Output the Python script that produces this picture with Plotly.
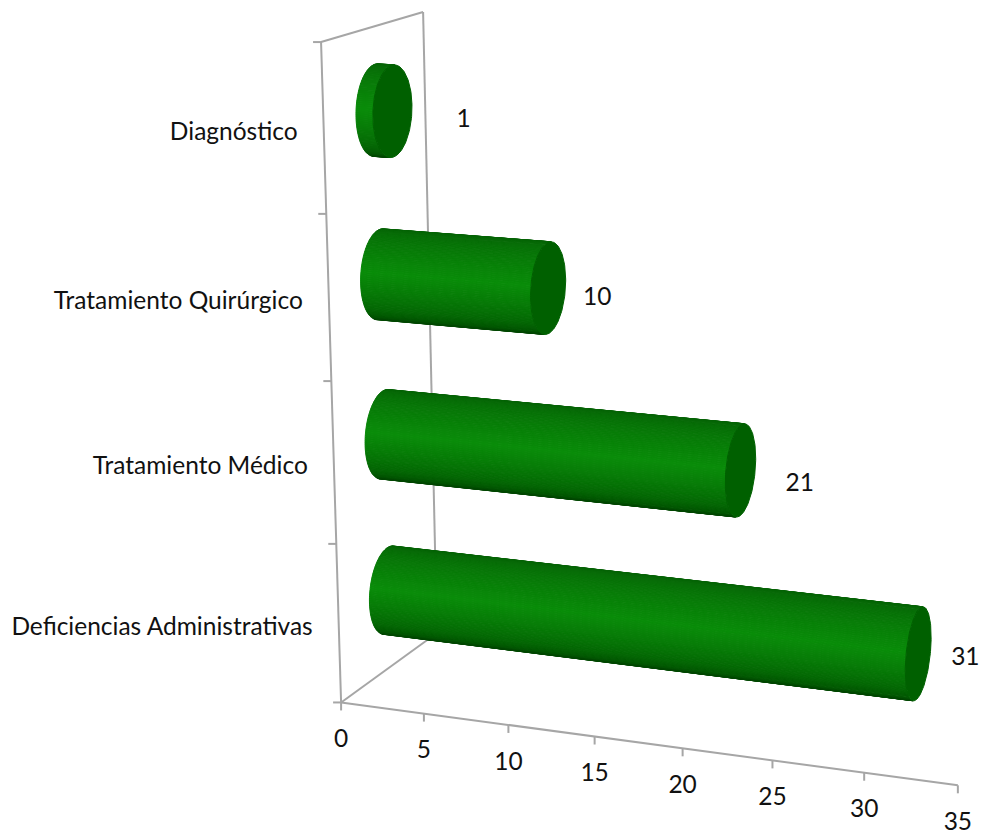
import numpy as np
import plotly.graph_objects as go

# Chart data, listed from the floor of the chart upwards
categories = ["Deficiencias Administrativas", "Tratamiento Médico",
              "Tratamiento Quirúrgico", "Diagnóstico"]
values = [31, 21, 10, 1]
value_ticks = [0, 5, 10, 15, 20, 25, 30, 35]
value_max = 35

# Styling
GREY = "#a6a6a6"
CAP = "#006000"
TEXT = "#111111"
FONT = "Lato"
FONT_SIZE = 24.5
SHADE = [(0.0, (6, 96, 6)), (0.5, (9, 140, 9)), (0.8, (4, 102, 4)), (1.0, (0, 70, 0))]
RADIUS_DEPTH, RADIUS_HEIGHT = 0.195, 0.275
LABEL_SHIFT = [(47, 5), (59, 14), (49, 11), (71, 10)]

# Pinhole camera for the box (value, depth 0-1, category 0-4), solved from anchors on its frame
anchors = [((0, 0, 0), (341, 702)), ((5, 0, 0), (424, 714)), ((30, 0, 0), (864, 773)),
           ((35, 0, 0), (958, 785)), ((0, 1, 0), (437, 633)), ((0, 0, 1), (336.5, 544)),
           ((0, 0, 2), (331, 381)), ((0, 0, 3), (326, 214)), ((0, 0, 4), (321.5, 42)),
           ((0, 1, 4), (423, 12))]


def solve_camera(pairs):
    rows = []
    for (a, b, c), (u, v) in pairs:
        p = [a, b, c, 1]
        rows.append(p + [0, 0, 0, 0] + [-u * q for q in p])
        rows.append([0, 0, 0, 0] + p + [-v * q for q in p])
    return np.linalg.svd(np.array(rows, float))[2][-1].reshape(3, 4)


CAMERA = solve_camera(anchors)


def project(val, depth, height):
    val, depth, height = np.broadcast_arrays(val, depth, height)
    pts = np.stack([val, depth, height, np.ones_like(val, float)]).astype(float)
    u, v, w = CAMERA @ pts
    return u / w, v / w


def shade(t):
    for (t0, c0), (t1, c1) in zip(SHADE, SHADE[1:]):
        if t <= t1:
            f = (t - t0) / (t1 - t0)
            return "rgb(%d,%d,%d)" % tuple(round(a + (b - a) * f) for a, b in zip(c0, c1))
    return "rgb(%d,%d,%d)" % SHADE[-1][1]


fig = go.Figure()


def frame_line(a, b, width=2):
    xs, ys = project([a[0], b[0]], [a[1], b[1]], [a[2], b[2]])
    fig.add_trace(go.Scatter(x=xs, y=ys, mode="lines", line=dict(color=GREY, width=width),
                             hoverinfo="skip", showlegend=False))


# Frame edges and tick marks
frame_line((0, 0, 0), (value_max, 0, 0))
frame_line((0, 0, 0), (0, 1, 0))
frame_line((0, 0, 0), (0, 0, 4))
frame_line((0, 1, 0), (0, 1, 4))
frame_line((0, 0, 4), (0, 1, 4))
for t in value_ticks:
    x0, y0 = project(t, 0, 0)
    fig.add_trace(go.Scatter(x=[x0, x0], y=[y0, y0 + 8], mode="lines",
                             line=dict(color=GREY, width=2), hoverinfo="skip", showlegend=False))
for k in range(len(categories) + 1):
    x0, y0 = project(0, 0, k)
    fig.add_trace(go.Scatter(x=[x0 - 8, x0], y=[y0, y0], mode="lines",
                             line=dict(color=GREY, width=2), hoverinfo="skip", showlegend=False))

# Cylinders: one filled strip per facet of the visible side, then the end cap
N = 144
angles = np.linspace(0, 2 * np.pi, N + 1)
for k, val in enumerate(values):
    mid = k + 0.5
    d = 0.5 + RADIUS_DEPTH * np.cos(angles)
    h = mid + RADIUS_HEIGHT * np.sin(angles)
    x0, y0 = project(0, d, h)
    x1, y1 = project(val, d, h)
    strips = []
    for i in range(N):
        qx = [x0[i], x1[i], x1[i + 1], x0[i + 1]]
        qy = [y0[i], y1[i], y1[i + 1], y0[i + 1]]
        area = sum(qx[j] * qy[(j + 1) % 4] - qx[(j + 1) % 4] * qy[j] for j in range(4))
        if area > 0:
            strips.append((sum(qy) / 4, qx, qy))
    strips.sort(key=lambda s: s[0])
    for idx, (_, qx, qy) in enumerate(strips):
        col = shade(idx / max(len(strips) - 1, 1))
        fig.add_trace(go.Scatter(x=qx + qx[:1], y=qy + qy[:1], mode="lines", fill="toself",
                                 fillcolor=col, line=dict(color=col, width=1),
                                 hoverinfo="skip", showlegend=False))
    fig.add_trace(go.Scatter(x=x1, y=y1, mode="lines", fill="toself", fillcolor=CAP,
                             line=dict(color=CAP, width=1), hoverinfo="skip", showlegend=False))

# Value labels beside the caps
cx, cy = project(np.array(values, float), 0.5, np.arange(len(values)) + 0.5)
fig.add_trace(go.Scatter(x=cx + [s[0] for s in LABEL_SHIFT], y=cy + [s[1] for s in LABEL_SHIFT],
                         mode="text", text=[str(v) for v in values], textposition="middle center",
                         textfont=dict(family=FONT, size=FONT_SIZE, color=TEXT),
                         hoverinfo="skip", showlegend=False))

# Value axis labels under the ticks
tx, ty = project(np.array(value_ticks, float), 0, 0)
fig.add_trace(go.Scatter(x=tx, y=ty + 38.5, mode="text", text=[str(t) for t in value_ticks],
                         textposition="middle center",
                         textfont=dict(family=FONT, size=FONT_SIZE, color=TEXT),
                         hoverinfo="skip", showlegend=False))

# Category labels right-aligned against the left frame edge
lx, ly = project(0, 0, np.arange(len(categories)) + 0.5)
fig.add_trace(go.Scatter(x=lx - 26, y=ly + 5, mode="text", text=categories,
                         textposition="middle left",
                         textfont=dict(family=FONT, size=FONT_SIZE, color=TEXT),
                         hoverinfo="skip", showlegend=False))

fig.update_layout(
    width=981, height=834, margin=dict(l=0, r=0, t=0, b=0),
    paper_bgcolor="white", plot_bgcolor="white", showlegend=False,
    xaxis=dict(range=[0, 981], visible=False, fixedrange=True),
    yaxis=dict(range=[834, 0], visible=False, fixedrange=True),
)
fig.write_html("out.html", config={"displayModeBar": False})
